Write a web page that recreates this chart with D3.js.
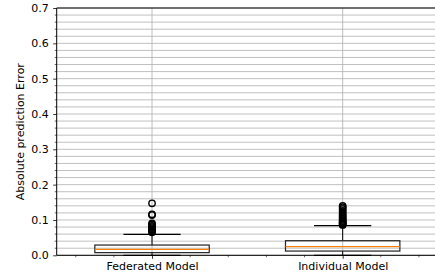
<!DOCTYPE html>
<html><head><meta charset="utf-8">
<script src="https://cdn.jsdelivr.net/npm/d3@7"></script>
<style>body{margin:0;background:#fff}svg{display:block}text{font-family:"DejaVu Sans",sans-serif}</style>
</head><body><svg id="c" width="435" height="279"></svg>
<script>
const categories = ["Federated Model", "Individual Model"];
const q1 = [0.0075, 0.012];
const median = [0.017, 0.0243];
const q3 = [0.029, 0.0413];
const whiskerLow = [0.0, 0.0];
const whiskerHigh = [0.0594, 0.0838];
const outliers = [
  [0.147, 0.116, 0.114, 0.0906, 0.087, 0.083, 0.080, 0.077, 0.074, 0.0716, 0.068, 0.065],
  [0.140, 0.136, 0.131, 0.126, 0.121, 0.116, 0.112, 0.108, 0.104, 0.100, 0.097, 0.094, 0.092, 0.090, 0.088, 0.086]
];
const yTicks = [0, 0.1, 0.2, 0.3, 0.4, 0.5, 0.6, 0.7];
const yLabel = "Absolute prediction Error";

const svg = d3.select("#c");
const L = 56.7, R = 438, T = 8, B = 255.3;
const FS = 11;
const x = d3.scaleLinear().domain([0.5, 2.5]).range([L, R]);
const y = d3.scaleLinear().domain([0, 0.7]).range([B, T]);
const minorY = d3.range(0, 0.7001, 0.02);
const minorX = d3.range(0.6, 2.5, 0.2).filter(v => Math.abs(v - 1) > 1e-6 && Math.abs(v - 2) > 1e-6);

// grid
const g = svg.append("g");
g.selectAll(".gy").data(minorY).join("line")
  .attr("x1", L).attr("x2", R).attr("y1", d => y(d)).attr("y2", d => y(d))
  .attr("stroke", "#b0b0b0").attr("stroke-width", 0.8);
g.selectAll(".gx").data([1, 2]).join("line")
  .attr("x1", d => x(d)).attr("x2", d => x(d)).attr("y1", T).attr("y2", B)
  .attr("stroke", "#b0b0b0").attr("stroke-width", 0.8);

// boxes
categories.forEach((c, i) => {
  const cx = x(i + 1), hw = x(0.8) - x(0.5), cw = x(0.65) - x(0.5);
  const bg = svg.append("g");
  bg.append("line").attr("x1", cx).attr("x2", cx).attr("y1", y(q3[i])).attr("y2", y(whiskerHigh[i])).attr("stroke", "#000").attr("stroke-width", 1);
  bg.append("line").attr("x1", cx).attr("x2", cx).attr("y1", y(q1[i])).attr("y2", y(whiskerLow[i])).attr("stroke", "#000").attr("stroke-width", 1);
  bg.append("line").attr("x1", cx - cw).attr("x2", cx + cw).attr("y1", y(whiskerHigh[i])).attr("y2", y(whiskerHigh[i])).attr("stroke", "#000").attr("stroke-width", 1.2);
  bg.append("line").attr("x1", cx - cw).attr("x2", cx + cw).attr("y1", y(whiskerLow[i])).attr("y2", y(whiskerLow[i])).attr("stroke", "#000").attr("stroke-width", 1.2);
  bg.append("rect").attr("x", cx - hw).attr("width", 2 * hw).attr("y", y(q3[i])).attr("height", y(q1[i]) - y(q3[i]))
    .attr("fill", "none").attr("stroke", "#222").attr("stroke-width", 1.2);
  bg.append("line").attr("x1", cx - hw).attr("x2", cx + hw).attr("y1", y(median[i])).attr("y2", y(median[i])).attr("stroke", "#ff7f0e").attr("stroke-width", 1.2);
  bg.selectAll("circle").data(outliers[i]).join("circle")
    .attr("cx", cx).attr("cy", d => y(d)).attr("r", 3.2).attr("fill", "none").attr("stroke", "#000").attr("stroke-width", 1.4);
});

// spines
svg.append("line").attr("x1", L).attr("x2", R).attr("y1", T).attr("y2", T).attr("stroke", "#000").attr("stroke-width", 1);
svg.append("line").attr("x1", L).attr("x2", R).attr("y1", B).attr("y2", B).attr("stroke", "#000").attr("stroke-width", 1);
svg.append("line").attr("x1", L).attr("x2", L).attr("y1", T).attr("y2", B).attr("stroke", "#000").attr("stroke-width", 1);

// y axis
const ya = svg.append("g").attr("transform", `translate(${L},0)`)
  .call(d3.axisLeft(y).tickValues(yTicks).tickFormat(d3.format(".1f")).tickSize(3.5).tickPadding(4.5));
ya.select(".domain").remove();
ya.selectAll("line").attr("stroke", "#000").attr("stroke-width", 0.8);
ya.selectAll("text").attr("font-size", FS).attr("fill", "#000").attr("font-family", "DejaVu Sans");
svg.append("g").selectAll("line").data(minorY.filter(v => yTicks.every(t => Math.abs(t - v) > 1e-6))).join("line")
  .attr("x1", L - 2).attr("x2", L).attr("y1", d => y(d)).attr("y2", d => y(d)).attr("stroke", "#000").attr("stroke-width", 0.6);

// x axis
const xa = svg.append("g").attr("transform", `translate(0,${B})`)
  .call(d3.axisBottom(x).tickValues([1, 2]).tickFormat((d, i) => categories[i]).tickSize(3.5).tickPadding(3.5));
xa.select(".domain").remove();
xa.selectAll("line").attr("stroke", "#000").attr("stroke-width", 0.8);
xa.selectAll("text").attr("font-size", FS).attr("fill", "#000").attr("font-family", "DejaVu Sans");
svg.append("g").selectAll("line").data(minorX).join("line")
  .attr("x1", d => x(d)).attr("x2", d => x(d)).attr("y1", B).attr("y2", B + 2).attr("stroke", "#000").attr("stroke-width", 0.6);

svg.append("text").attr("transform", `translate(21,${(T + B) / 2}) rotate(-90)`)
  .attr("text-anchor", "middle").attr("dominant-baseline", "middle").attr("font-size", FS).text(yLabel);
</script></body></html>
